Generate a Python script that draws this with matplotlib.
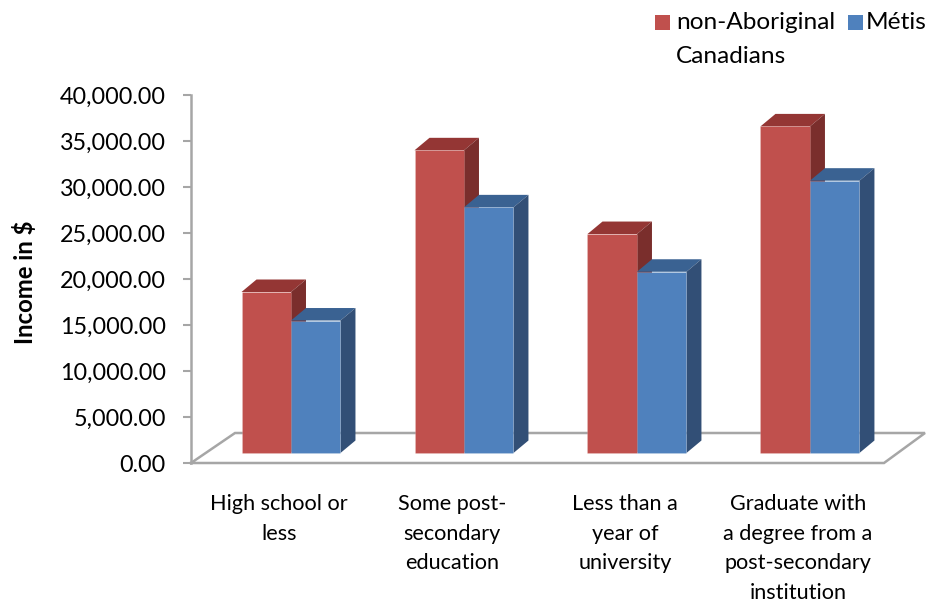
import matplotlib
matplotlib.use("Agg")
import matplotlib.pyplot as plt
from matplotlib.patches import Polygon, Rectangle
from matplotlib.lines import Line2D
import numpy as np

# ---------------- data ----------------
categories = ["High school or\nless",
              "Some post-\nsecondary\neducation",
              "Less than a\nyear of\nuniversity",
              "Graduate with\na degree from a\npost-secondary\ninstitution"]
series_names = ["non-Aboriginal", "Canadians", "Métis"]
non_aboriginal = [17500, 32900, 23800, 35500]
metis = [14400, 26700, 19700, 29600]
yticks = [0, 5000, 10000, 15000, 20000, 25000, 30000, 35000, 40000]
ytick_labels = ["0.00", "5,000.00", "10,000.00", "15,000.00", "20,000.00",
                "25,000.00", "30,000.00", "35,000.00", "40,000.00"]

FONT = "Lato"
W, H = 934, 602
fig = plt.figure(figsize=(W / 100, H / 100), dpi=100)
ax_l, ax_r, ax_t, ax_b = 191, 884, 95, 463
ax = fig.add_axes([ax_l / W, 1 - ax_b / H, (ax_r - ax_l) / W, (ax_b - ax_t) / H])
xlim = (-0.578, 3.428)
ylim = (0, 40000)
ax.set_xlim(xlim)
ax.set_ylim(ylim)
px_x = (ax_r - ax_l) / (xlim[1] - xlim[0])
px_y = (ax_b - ax_t) / (ylim[1] - ylim[0])


def dx(p):
    return p / px_x


def dy(p):
    return p / px_y


bar_w = 0.286
ddx, ddy = dx(15), dy(12.5)
base = dy(10)

colors = {
    "red": ("#C0504D", "#943634", "#7A2E2C"),
    "blue": ("#4F81BD", "#3A6292", "#324F76"),
}

x = np.arange(len(categories))


def draw_series(xs, vals, cols, z):
    front, top, side = cols
    ax.bar(xs, vals, width=bar_w, bottom=base, align="edge", color=front,
           edgecolor="#ffffff40", linewidth=0.4, zorder=z + 0.2)
    for xi, v in zip(xs, vals):
        t = base + v
        ax.add_patch(Polygon([(xi, t), (xi + bar_w, t), (xi + bar_w + ddx, t + ddy),
                              (xi + ddx, t + ddy)], closed=True, facecolor=top,
                             edgecolor="none", zorder=z))
        ax.add_patch(Polygon([(xi + bar_w, base), (xi + bar_w + ddx, base + ddy),
                              (xi + bar_w + ddx, t + ddy), (xi + bar_w, t)], closed=True,
                             facecolor=side, edgecolor="none", zorder=z))


draw_series(x - bar_w, non_aboriginal, colors["red"], 2)
draw_series(x, metis, colors["blue"], 3)

# floor
gray = "#A6A6A6"
fx0, fx1 = xlim
fl = [(fx0, 0), (fx1, 0), (fx1 + dx(41), dy(30)), (fx0 + dx(44), dy(30)), (fx0, 0)]
ax.add_line(Line2D([p[0] for p in fl], [p[1] for p in fl], color=gray, lw=1.8,
                   clip_on=False, zorder=1, solid_joinstyle="miter"))

for s in ["top", "right", "bottom"]:
    ax.spines[s].set_visible(False)
ax.spines["left"].set_color(gray)
ax.spines["left"].set_linewidth(1.8)
ax.set_yticks(yticks)
ax.set_yticklabels(ytick_labels, fontname=FONT, fontsize=16.8)
ax.tick_params(axis="y", length=6, width=1.5, color=gray, pad=12)
ax.set_xticks([])

# category labels
for xi, lab in zip(x, categories):
    ax.text(xi - dx(12), -dy(31), lab, ha="center", va="top", fontname=FONT,
            fontsize=15.6, linespacing=1.6, clip_on=False)

fig.text(25 / W, 1 - 282 / H, "Income in $", rotation=90, ha="center", va="center",
         fontname=FONT, fontsize=17.2, fontweight="bold")

# legend
fig.patches.append(Rectangle((655 / W, 1 - 30 / H), 15 / W, 15 / H, transform=fig.transFigure,
                             facecolor=colors["red"][0], edgecolor="none"))
fig.patches.append(Rectangle((848 / W, 1 - 30 / H), 15 / W, 15 / H, transform=fig.transFigure,
                             facecolor=colors["blue"][0], edgecolor="none"))
fig.text(676 / W, 1 - 29 / H, series_names[0], ha="left", va="baseline", fontname=FONT, fontsize=17.6)
fig.text(676 / W, 1 - 63 / H, series_names[1], ha="left", va="baseline", fontname=FONT, fontsize=17.6)
fig.text(866 / W, 1 - 29 / H, series_names[2], ha="left", va="baseline", fontname=FONT, fontsize=17.6)

fig.savefig("out.png", dpi=100)
